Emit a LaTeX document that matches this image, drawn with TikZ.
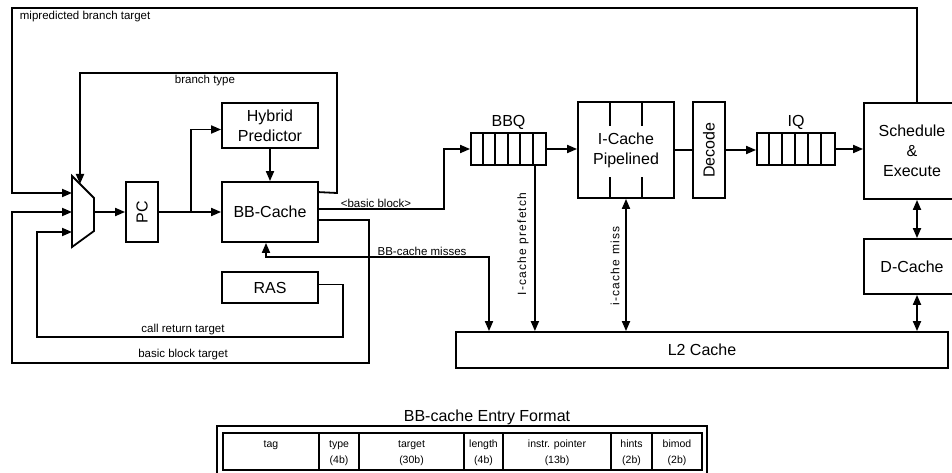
\documentclass[tikz,border=0pt]{standalone}
\usepackage{fontspec}
\setmainfont{Liberation Sans}
\usetikzlibrary{arrows.meta,calc}
\begin{document}
\begin{tikzpicture}[x=1pt,y=-1pt,
  line width=1.8pt,
  box/.style={draw, line width=1.8pt, rectangle, inner sep=0pt, align=center,
    font=\fontsize{16}{20}\selectfont},
  arr/.style={-{Triangle[length=10pt,width=8pt]}},
  darr/.style={{Triangle[length=10pt,width=8pt]}-{Triangle[length=10pt,width=8pt]}},
  lbl/.style={font=\fontsize{11.5}{13}\selectfont, inner sep=1pt},
  vlbl/.style={font=\fontsize{12}{13}\selectfont\addfontfeature{LetterSpace=10}, inner sep=1pt, rotate=90},
  qlbl/.style={font=\fontsize{16}{19}\selectfont, inner sep=2pt, anchor=south},
  cell/.style={font=\fontsize{10.5}{16}\selectfont, align=center, inner sep=0pt},
  ]
\useasboundingbox (0,0) rectangle (952,473);

% front end boxes
\node[box, minimum width=96, minimum height=45] (hyb) at (270,125.5) {Hybrid\\Predictor};
\node[box, minimum width=96, minimum height=60] (bbc) at (270,212) {BB-Cache};
\node[box, minimum width=96, minimum height=31] (ras) at (270,287.5) {RAS};
\node[box, minimum width=32, minimum height=60] (pc) at (142,212) {\rotatebox{90}{PC}};

% mux
\draw (72,176) -- (94,198) -- (94,231) -- (72,247) -- cycle;
\coordinate (mi1) at (72,193);
\coordinate (mi2) at (72,212);
\coordinate (mi3) at (72,232);
\coordinate (mo) at (94,212);
\coordinate (mt) at (80,184);

% queues and back end
\node[box, minimum width=75, minimum height=32] (bbq) at (508.5,149) {};
\foreach \i in {1,...,5} \draw ($(bbq.north west)+(12.5*\i,0)$) -- ($(bbq.south west)+(12.5*\i,0)$);
\node[qlbl] at (bbq.north) {BBQ};

\node[box, minimum width=96, minimum height=96] (ic) at (626,150) {I-Cache\\Pipelined};
\foreach \dx in {-16,16} {
  \draw ($(ic.north)+(\dx,0)$) -- ++(0,25);
  \draw ($(ic.south)+(\dx,0)$) -- ++(0,-22);
}
\node[box, minimum width=32, minimum height=96] (dec) at (709,150) {\rotatebox{90}{Decode}};
\node[box, minimum width=78, minimum height=32] (iq) at (796,149) {};
\foreach \i in {1,...,5} \draw ($(iq.north west)+(13*\i,0)$) -- ($(iq.south west)+(13*\i,0)$);
\node[qlbl] at (iq.north) {IQ};

\node[box, minimum width=96, minimum height=96] (sch) at (912,151) {Schedule\\\&\\Execute};
\node[box, minimum width=96, minimum height=55] (dc) at (912,266.5) {D-Cache};
\node[box, minimum width=492, minimum height=36] (l2) at (702,350) {L2 Cache};

% connectors front end
\draw[arr] (mo) -- (pc.west);
\coordinate (split) at (191,212);
\draw[arr] (pc.east) -- (bbc.west);
\draw[arr] (split) |- ($(hyb.west)+(0,4)$);
\draw[arr] (hyb.south) -- (bbc.north);

% branch type
\draw[arr] ($(bbc.north east)+(0,11)$) -- (337,193) -- (337,73) -- (80,73) -- (mt);
\node[lbl] at (205,81) {branch type};

% mispredicted branch target
\draw[arr] ($(sch.north)+(5,0)$) -- (917,8) -- (12,8) -- (12,193) -- (mi1);
\node[lbl, anchor=west] at (18,17) {mipredicted branch target};

% basic block target
\draw[arr] ($(bbc.east)+(0,8)$) -- (369,220) -- (369,363) -- (12,363) -- (12,212) -- (mi2);
\node[lbl] at (183,355) {basic block target};

% call return target
\draw[arr] ($(ras.east)+(0,-3)$) -- (343,284.5) -- (343,337) -- (37,337) -- (37,232) -- (mi3);
\node[lbl] at (183,330) {call return target};

% basic block to BBQ
\draw[arr] ($(bbc.east)+(0,-3)$) -- (444,209) -- (444,149) -- (bbq.west);
\node[lbl] at (376,203) {\textless basic block\textgreater};

% BB-cache misses
\coordinate (bm) at (489,257);
\draw[darr] ($(bbc.south)+(-4,0)$) |- (bm) -- (bm |- l2.north);
\node[lbl] at (422,251) {BB-cache misses};

% I-cache prefetch
\coordinate (pf) at ($(bbq.south east)+(-12,0)$);
\draw[arr] (pf) -- (pf |- l2.north);
\node[vlbl] at (523,244) {I-cache prefetch};

% i-cache miss
\draw[darr] (ic.south) -- (ic.south |- l2.north);
\node[vlbl] at (615,266) {i-cache miss};

% pipeline
\draw[arr] (bbq.east) -- (bbq.east -| ic.west);
\draw (ic.east) -- (dec.west);
\draw[arr] (dec.east) -- (dec.east -| iq.west);
\draw[arr] (iq.east) -- (iq.east -| sch.west);
\coordinate (sd) at ($(sch.south)+(5,0)$);
\draw[darr] (sd) -- (sd |- dc.north);
\coordinate (dl) at ($(dc.south)+(5,0)$);
\draw[darr] (dl) -- (dl |- l2.north);

% BB-cache entry format table
\node[font=\fontsize{16}{19}\selectfont] (ttl) at (487,417) {BB-cache Entry Format};
\draw[line width=1.6pt] (217,426) rectangle (707,482);
\draw[line width=1.6pt] (223,433) rectangle (702,470);
\foreach \x in {319,359,464,503,611,652} \draw[line width=1.6pt] (\x,433) -- (\x,470);
\node[cell] (c1) at (271,445) {tag};
\node[cell] (c2) at (339,453) {type\\(4b)};
\node[cell] (c3) at (411.5,453) {target\\(30b)};
\node[cell] (c4) at (483.5,453) {length\\(4b)};
\node[cell] (c5) at (557,453) {instr. pointer\\(13b)};
\node[cell] (c6) at (631.5,453) {hints\\(2b)};
\node[cell] (c7) at (677,453) {bimod\\(2b)};
\end{tikzpicture}
\end{document}
